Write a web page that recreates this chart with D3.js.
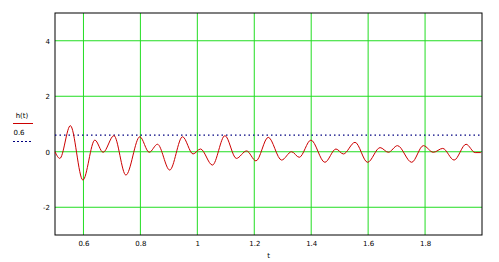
<!DOCTYPE html>
<html>
<head>
<meta charset="utf-8">
<script src="https://cdn.jsdelivr.net/npm/d3@7"></script>
<style>
  body { margin: 0; background: #fff; }
  text { font-family: "DejaVu Sans", sans-serif; }
</style>
</head>
<body>
<div id="chart"></div>
<script>
// h(t) (turning points of the curve)
var tValues = [0.500, 0.517, 0.554, 0.598, 0.640, 0.669, 0.707, 0.749, 0.798, 0.831,
               0.860, 0.903, 0.948, 0.985, 1.011, 1.053, 1.097, 1.137, 1.173, 1.206,
               1.249, 1.296, 1.331, 1.358, 1.399, 1.448, 1.487, 1.513, 1.554, 1.598,
               1.642, 1.671, 1.703, 1.753, 1.794, 1.829, 1.862, 1.902, 1.944, 1.976, 1.996];
var hValues = [0.00, -0.24, 0.94, -1.02, 0.42, -0.02, 0.58, -0.84, 0.54, -0.02,
               0.27, -0.66, 0.54, -0.08, 0.10, -0.48, 0.58, -0.24, 0.03, -0.33,
               0.52, -0.30, 0.00, -0.20, 0.42, -0.38, 0.10, -0.08, 0.34, -0.38,
               0.15, -0.02, 0.22, -0.38, 0.22, -0.02, 0.12, -0.30, 0.27, -0.03, -0.03];
var threshold = 0.6;
var xTicks = [0.6, 0.8, 1, 1.2, 1.4, 1.6, 1.8];
var yTicks = [-2, 0, 2, 4];

var margin = {top: 13, right: 17, bottom: 27, left: 55};
var width = 499 - margin.left - margin.right;
var height = 262 - margin.top - margin.bottom;

var svg = d3.select("#chart")
          .append("svg")
          .attr("width", 499)
          .attr("height", 262)
          .append("g")
          .attr("transform", "translate(" + margin.left + "," + margin.top + ")");

var data = tValues.map(function(t, i) { return {t: t, h: hValues[i]}; });

var x = d3.scaleLinear().domain([0.5, 2.0]).range([0, width]);
var y = d3.scaleLinear().domain([-3, 5]).range([height, 0]);

// Grid
svg.selectAll(".vgrid")
  .data(xTicks)
  .enter().append("line")
  .attr("x1", function(d) { return x(d); })
  .attr("x2", function(d) { return x(d); })
  .attr("y1", 0)
  .attr("y2", height)
  .attr("stroke", "#22dd22")
  .attr("stroke-width", 1);

svg.selectAll(".hgrid")
  .data(yTicks)
  .enter().append("line")
  .attr("x1", 0)
  .attr("x2", width)
  .attr("y1", function(d) { return y(d); })
  .attr("y2", function(d) { return y(d); })
  .attr("stroke", "#22dd22")
  .attr("stroke-width", 1);

// Frame
svg.append("rect")
  .attr("width", width)
  .attr("height", height)
  .attr("fill", "none")
  .attr("stroke", "black")
  .attr("stroke-width", 1);

// Axes (labels only, no tick marks)
var plain = function(d) { return String(d); };

var xAxis = svg.append("g")
  .attr("transform", "translate(0," + height + ")")
  .call(d3.axisBottom(x).tickValues(xTicks).tickSize(0).tickPadding(6).tickFormat(plain));
xAxis.select(".domain").remove();
xAxis.selectAll("text").style("font-size", "7px").attr("fill", "black");

var yAxis = svg.append("g")
  .call(d3.axisLeft(y).tickValues(yTicks).tickSize(0).tickPadding(5).tickFormat(plain));
yAxis.select(".domain").remove();
yAxis.selectAll("text").style("font-size", "7px").attr("fill", "black");

svg.append("text")
  .attr("x", x(1.25))
  .attr("y", height + 23)
  .style("font-size", "7px")
  .style("text-anchor", "middle")
  .text("t");

// Threshold line
svg.append("line")
  .attr("x1", 0)
  .attr("x2", width)
  .attr("y1", y(threshold))
  .attr("y2", y(threshold))
  .attr("stroke", "#000080")
  .attr("stroke-width", 1.2)
  .attr("stroke-dasharray", "1.5,3");

// Curve
svg.append("path")
  .datum(data)
  .attr("fill", "none")
  .attr("stroke", "#cc0000")
  .attr("stroke-width", 1)
  .attr("d", d3.line()
    .curve(d3.curveMonotoneX)
    .x(function(d) { return x(d.t); })
    .y(function(d) { return y(d.h); })
  );

// Legend at the left
var legend = d3.select("svg").append("g");
legend.append("text").attr("x", 22).attr("y", 118).style("font-size", "7px").style("text-anchor", "middle").text("h(t)");
legend.append("line").attr("x1", 13).attr("x2", 33).attr("y1", 123.5).attr("y2", 123.5).attr("stroke", "#cc0000");
legend.append("text").attr("x", 19).attr("y", 135).style("font-size", "7px").style("text-anchor", "middle").text("0.6");
legend.append("line").attr("x1", 13).attr("x2", 31).attr("y1", 141.5).attr("y2", 141.5)
  .attr("stroke", "#000080").attr("stroke-dasharray", "2,2");
</script>
</body>
</html>
